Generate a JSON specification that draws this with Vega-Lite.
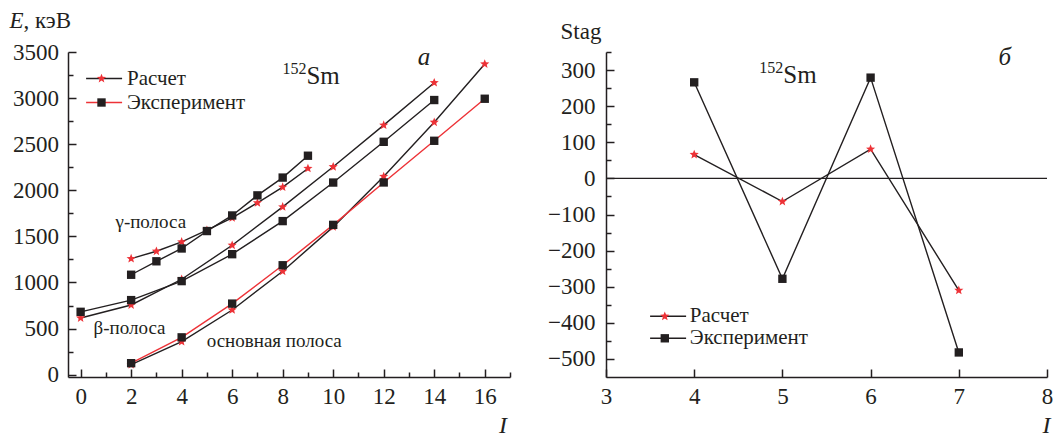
{
  "$schema": "https://vega.github.io/schema/vega-lite/v6.json",
  "padding": {"left": 8, "top": 9, "right": 5, "bottom": 5},
  "config": {
    "font": "Liberation Serif, Tinos, Times New Roman, DejaVu Serif, serif",
    "view": {"stroke": null},
    "text": {"font": "Liberation Serif, Tinos, Times New Roman, DejaVu Serif, serif"},
    "axis": {"grid": false, "domainColor": "#231f20", "tickColor": "#231f20", "labelColor": "#231f20", "titleColor": "#231f20", "domainWidth": 1.5, "tickWidth": 1.5, "labelFont": "Liberation Serif, Tinos, Times New Roman, DejaVu Serif, serif", "titleFont": "Liberation Serif, Tinos, Times New Roman, DejaVu Serif, serif", "titleFontWeight": "normal", "labelFlush": false, "labelOverlap": false, "format": "d"},
    "legend": {"labelFont": "Liberation Serif, Tinos, Times New Roman, DejaVu Serif, serif", "labelColor": "#231f20", "labelFontSize": 21}
  },
  "spacing": 96,
  "bounds": "flush",
  "resolve": {
    "scale": {"fill": "independent", "shape": "independent", "stroke": "independent"},
    "legend": {"fill": "independent", "shape": "independent", "stroke": "independent"}
  },
  "hconcat": [
    {
      "width": 442,
      "height": 325,
      "data": {"values": [
        {"I": 2, "E": 110, "band": "основная", "series": "Расчет"},
        {"I": 4, "E": 358, "band": "основная", "series": "Расчет"},
        {"I": 6, "E": 702, "band": "основная", "series": "Расчет"},
        {"I": 8, "E": 1122, "band": "основная", "series": "Расчет"},
        {"I": 10, "E": 1603, "band": "основная", "series": "Расчет"},
        {"I": 12, "E": 2150, "band": "основная", "series": "Расчет"},
        {"I": 14, "E": 2738, "band": "основная", "series": "Расчет"},
        {"I": 16, "E": 3370, "band": "основная", "series": "Расчет"},
        {"I": 2, "E": 125, "band": "основная", "series": "Эксперимент"},
        {"I": 4, "E": 405, "band": "основная", "series": "Эксперимент"},
        {"I": 6, "E": 771, "band": "основная", "series": "Эксперимент"},
        {"I": 8, "E": 1187, "band": "основная", "series": "Эксперимент"},
        {"I": 10, "E": 1625, "band": "основная", "series": "Эксперимент"},
        {"I": 12, "E": 2085, "band": "основная", "series": "Эксперимент"},
        {"I": 14, "E": 2537, "band": "основная", "series": "Эксперимент"},
        {"I": 16, "E": 2993, "band": "основная", "series": "Эксперимент"},
        {"I": 0, "E": 615, "band": "β", "series": "Расчет"},
        {"I": 2, "E": 756, "band": "β", "series": "Расчет"},
        {"I": 4, "E": 1035, "band": "β", "series": "Расчет"},
        {"I": 6, "E": 1404, "band": "β", "series": "Расчет"},
        {"I": 8, "E": 1820, "band": "β", "series": "Расчет"},
        {"I": 10, "E": 2255, "band": "β", "series": "Расчет"},
        {"I": 12, "E": 2707, "band": "β", "series": "Расчет"},
        {"I": 14, "E": 3167, "band": "β", "series": "Расчет"},
        {"I": 0, "E": 682, "band": "β", "series": "Эксперимент"},
        {"I": 2, "E": 809, "band": "β", "series": "Эксперимент"},
        {"I": 4, "E": 1015, "band": "β", "series": "Эксперимент"},
        {"I": 6, "E": 1307, "band": "β", "series": "Эксперимент"},
        {"I": 8, "E": 1666, "band": "β", "series": "Эксперимент"},
        {"I": 10, "E": 2084, "band": "β", "series": "Эксперимент"},
        {"I": 12, "E": 2526, "band": "β", "series": "Эксперимент"},
        {"I": 14, "E": 2979, "band": "β", "series": "Эксперимент"},
        {"I": 2, "E": 1259, "band": "γ", "series": "Расчет"},
        {"I": 3, "E": 1339, "band": "γ", "series": "Расчет"},
        {"I": 4, "E": 1440, "band": "γ", "series": "Расчет"},
        {"I": 5, "E": 1567, "band": "γ", "series": "Расчет"},
        {"I": 6, "E": 1701, "band": "γ", "series": "Расчет"},
        {"I": 7, "E": 1864, "band": "γ", "series": "Расчет"},
        {"I": 8, "E": 2034, "band": "γ", "series": "Расчет"},
        {"I": 9, "E": 2237, "band": "γ", "series": "Расчет"},
        {"I": 2, "E": 1084, "band": "γ", "series": "Эксперимент"},
        {"I": 3, "E": 1230, "band": "γ", "series": "Эксперимент"},
        {"I": 4, "E": 1369, "band": "γ", "series": "Эксперимент"},
        {"I": 5, "E": 1558, "band": "γ", "series": "Эксперимент"},
        {"I": 6, "E": 1727, "band": "γ", "series": "Эксперимент"},
        {"I": 7, "E": 1945, "band": "γ", "series": "Эксперимент"},
        {"I": 8, "E": 2138, "band": "γ", "series": "Эксперимент"},
        {"I": 9, "E": 2375, "band": "γ", "series": "Эксперимент"}
      ]},
      "resolve": {"axis": {"x": "independent", "y": "independent"}},
      "layer": [
        {
          "transform": [{"filter": "datum.band !== 'основная'"}],
          "mark": {"type": "line", "stroke": "#231f20", "strokeWidth": 1.4},
          "encoding": {
            "x": {"field": "I", "type": "quantitative", "scale": {"domain": [-0.5, 17], "nice": false, "zero": false},
              "axis": {"orient": "bottom", "values": [0, 2, 4, 6, 8, 10, 12, 14, 16], "tickSize": -8, "labelPadding": 16.6, "labelFontSize": 23, "title": "I", "titleFontStyle": "italic", "titleFontSize": 24, "titleX": 434.6, "titleY": 55, "titleAlign": "center", "titleBaseline": "alphabetic"}},
            "y": {"field": "E", "type": "quantitative", "scale": {"domain": [-25, 3500], "nice": false, "zero": false},
              "axis": {"orient": "left", "values": [0, 500, 1000, 1500, 2000, 2500, 3000, 3500], "tickSize": -8, "labelPadding": 17.4, "labelFontSize": 23, "title": ", кэВ", "titleFontSize": 23, "titleAngle": 0, "titleX": -45, "titleY": -24.7, "titleAlign": "left", "titleBaseline": "alphabetic"}},
            "detail": [{"field": "band", "type": "nominal"}, {"field": "series", "type": "nominal"}]
          }
        },
        {
          "transform": [{"filter": "datum.band === 'основная'"}],
          "mark": {"type": "line", "strokeWidth": 1.4},
          "encoding": {
            "x": {"field": "I", "type": "quantitative",
              "axis": {"orient": "bottom", "values": [1, 3, 5, 7, 9, 11, 13, 15, 17], "tickSize": -5, "labels": false, "domain": false, "title": null}},
            "y": {"field": "E", "type": "quantitative",
              "axis": {"orient": "left", "values": [250, 750, 1250, 1750, 2250, 2750, 3250], "tickSize": -5, "labels": false, "domain": false, "title": "E", "titleFontStyle": "italic", "titleFontSize": 23, "titleAngle": 0, "titleX": -59.1, "titleY": -24.7, "titleAlign": "left", "titleBaseline": "alphabetic"}},
            "stroke": {"field": "series", "type": "nominal", "scale": {"domain": ["Расчет", "Эксперимент"], "range": ["#231f20", "#ed3237"]},
              "legend": {"title": null, "orient": "none", "legendX": 25.6, "legendY": 16, "symbolType": "M-6,0H6", "symbolSize": 36, "symbolStrokeWidth": 1.4, "labelOpacity": 0, "labelFontSize": 21, "rowPadding": 2, "zindex": 1}}
          }
        },
        {
          "mark": {"type": "point", "filled": true, "opacity": 1, "strokeWidth": 0, "size": 70},
          "encoding": {
            "x": {"field": "I", "type": "quantitative", "axis": null},
            "y": {"field": "E", "type": "quantitative", "axis": null},
            "shape": {"field": "series", "type": "nominal", "scale": {"range": ["M0,-1.15L0.294,-0.405L1.094,-0.355L0.476,0.155L0.676,0.93L0,0.5L-0.676,0.93L-0.476,0.155L-1.094,-0.355L-0.294,-0.405Z", "square"]},
              "legend": {"title": null, "orient": "none", "legendX": 23, "legendY": 16, "labelFontSize": 21, "labelOffset": 15, "rowPadding": 2, "symbolSize": 70, "symbolStrokeWidth": 0, "zindex": 2}},
            "fill": {"field": "series", "type": "nominal", "scale": {"range": ["#ed3237", "#231f20"]},
              "legend": {"title": null, "orient": "none", "legendX": 23, "legendY": 16, "labelFontSize": 21, "labelOffset": 15, "rowPadding": 2, "symbolSize": 70, "symbolStrokeWidth": 0, "zindex": 2}}
          }
        },
        {
          "data": {"values": [
            {"x": 1.38, "y": 1586, "t": "γ-полоса"},
            {"x": 0.51, "y": 436, "t": "β-полоса"},
            {"x": 4.99, "y": 302, "t": "основная полоса"}
          ]},
          "mark": {"type": "text", "align": "left", "baseline": "alphabetic", "fontSize": 19, "color": "#231f20"},
          "encoding": {
            "x": {"field": "x", "type": "quantitative", "axis": null},
            "y": {"field": "y", "type": "quantitative", "axis": null},
            "text": {"field": "t", "type": "nominal"}
          }
        },
        {
          "data": {"values": [{"x": 8.94, "y": 3158, "nucleus": "Sm", "mass": "152", "panel": "а", "px": 13.35, "py": 3357}]},
          "layer": [
            {
              "mark": {"type": "text", "align": "left", "baseline": "alphabetic", "fontSize": 25, "color": "#231f20"},
              "encoding": {"x": {"field": "x", "type": "quantitative", "axis": null}, "y": {"field": "y", "type": "quantitative", "axis": null}, "text": {"field": "nucleus", "type": "nominal"}}
            },
            {
              "mark": {"type": "text", "align": "right", "baseline": "alphabetic", "fontSize": 16, "dy": -10, "color": "#231f20"},
              "encoding": {"x": {"field": "x", "type": "quantitative", "axis": null}, "y": {"field": "y", "type": "quantitative", "axis": null}, "text": {"field": "mass", "type": "nominal"}}
            },
            {
              "mark": {"type": "text", "align": "left", "baseline": "alphabetic", "fontSize": 25, "fontStyle": "italic", "color": "#231f20"},
              "encoding": {"x": {"field": "px", "type": "quantitative", "axis": null}, "y": {"field": "py", "type": "quantitative", "axis": null}, "text": {"field": "panel", "type": "nominal"}}
            }
          ]
        }
      ]
    },
    {
      "width": 441,
      "height": 325,
      "data": {"values": [
        {"I": 4, "S": 66, "series": "Расчет"},
        {"I": 5, "S": -64, "series": "Расчет"},
        {"I": 6, "S": 81, "series": "Расчет"},
        {"I": 7, "S": -310, "series": "Расчет"},
        {"I": 4, "S": 266, "series": "Эксперимент"},
        {"I": 5, "S": -278, "series": "Эксперимент"},
        {"I": 6, "S": 279, "series": "Эксперимент"},
        {"I": 7, "S": -482, "series": "Эксперимент"}
      ]},
      "resolve": {"axis": {"x": "independent", "y": "independent"}},
      "layer": [
        {
          "data": {"values": [{"z": 0}]},
          "mark": {"type": "rule", "stroke": "#231f20", "strokeWidth": 1.2},
          "encoding": {
            "y": {"field": "z", "type": "quantitative", "scale": {"domain": [-550, 350], "nice": false, "zero": false},
              "axis": {"orient": "left", "values": [-500, -400, -300, -200, -100, 0, 100, 200, 300], "tickSize": -8, "labelPadding": 19, "labelFontSize": 23, "title": "Stag", "titleFontSize": 23, "titleAngle": 0, "titleX": -46, "titleY": -13.7, "titleAlign": "left", "titleBaseline": "alphabetic"}}
          }
        },
        {
          "mark": {"type": "line", "strokeWidth": 1.4},
          "encoding": {
            "x": {"field": "I", "type": "quantitative", "scale": {"domain": [3, 8], "nice": false, "zero": false},
              "axis": {"orient": "bottom", "values": [3, 4, 5, 6, 7, 8], "tickSize": -8, "labelPadding": 16.6, "labelFontSize": 23, "title": "I", "titleFontStyle": "italic", "titleFontSize": 24, "titleX": 440, "titleY": 55, "titleAlign": "center", "titleBaseline": "alphabetic"}},
            "y": {"field": "S", "type": "quantitative",
              "axis": {"orient": "left", "values": [-450, -350, -250, -150, -50, 50, 150, 250, 350], "tickSize": -5, "labels": false, "domain": false, "title": null}},
            "stroke": {"field": "series", "type": "nominal", "scale": {"domain": ["Расчет", "Эксперимент"], "range": ["#231f20", "#231f20"]},
              "legend": {"title": null, "orient": "none", "legendX": 51.6, "legendY": 253.8, "symbolType": "M-6,0H6", "symbolSize": 36, "symbolStrokeWidth": 1.4, "labelOpacity": 0, "labelFontSize": 21, "rowPadding": 0, "zindex": 1}}
          }
        },
        {
          "mark": {"type": "point", "filled": true, "opacity": 1, "strokeWidth": 0, "size": 70},
          "encoding": {
            "x": {"field": "I", "type": "quantitative", "axis": null},
            "y": {"field": "S", "type": "quantitative", "axis": null},
            "shape": {"field": "series", "type": "nominal", "scale": {"range": ["M0,-1.15L0.294,-0.405L1.094,-0.355L0.476,0.155L0.676,0.93L0,0.5L-0.676,0.93L-0.476,0.155L-1.094,-0.355L-0.294,-0.405Z", "square"]},
              "legend": {"title": null, "orient": "none", "legendX": 48.3, "legendY": 253.8, "labelFontSize": 21, "labelOffset": 14.5, "rowPadding": 0, "symbolSize": 70, "symbolStrokeWidth": 0, "zindex": 2}},
            "fill": {"field": "series", "type": "nominal", "scale": {"range": ["#ed3237", "#231f20"]},
              "legend": {"title": null, "orient": "none", "legendX": 48.3, "legendY": 253.8, "labelFontSize": 21, "labelOffset": 14.5, "rowPadding": 0, "symbolSize": 70, "symbolStrokeWidth": 0, "zindex": 2}}
          }
        },
        {
          "data": {"values": [{"x": 5.01, "y": 263, "nucleus": "Sm", "mass": "152", "panel": "б", "px": 7.45, "py": 314}]},
          "layer": [
            {
              "mark": {"type": "text", "align": "left", "baseline": "alphabetic", "fontSize": 25, "color": "#231f20"},
              "encoding": {"x": {"field": "x", "type": "quantitative", "axis": null}, "y": {"field": "y", "type": "quantitative", "axis": null}, "text": {"field": "nucleus", "type": "nominal"}}
            },
            {
              "mark": {"type": "text", "align": "right", "baseline": "alphabetic", "fontSize": 16, "dy": -10, "color": "#231f20"},
              "encoding": {"x": {"field": "x", "type": "quantitative", "axis": null}, "y": {"field": "y", "type": "quantitative", "axis": null}, "text": {"field": "mass", "type": "nominal"}}
            },
            {
              "mark": {"type": "text", "align": "left", "baseline": "alphabetic", "fontSize": 25, "fontStyle": "italic", "color": "#231f20"},
              "encoding": {"x": {"field": "px", "type": "quantitative", "axis": null}, "y": {"field": "py", "type": "quantitative", "axis": null}, "text": {"field": "panel", "type": "nominal"}}
            }
          ]
        }
      ]
    }
  ]
}
